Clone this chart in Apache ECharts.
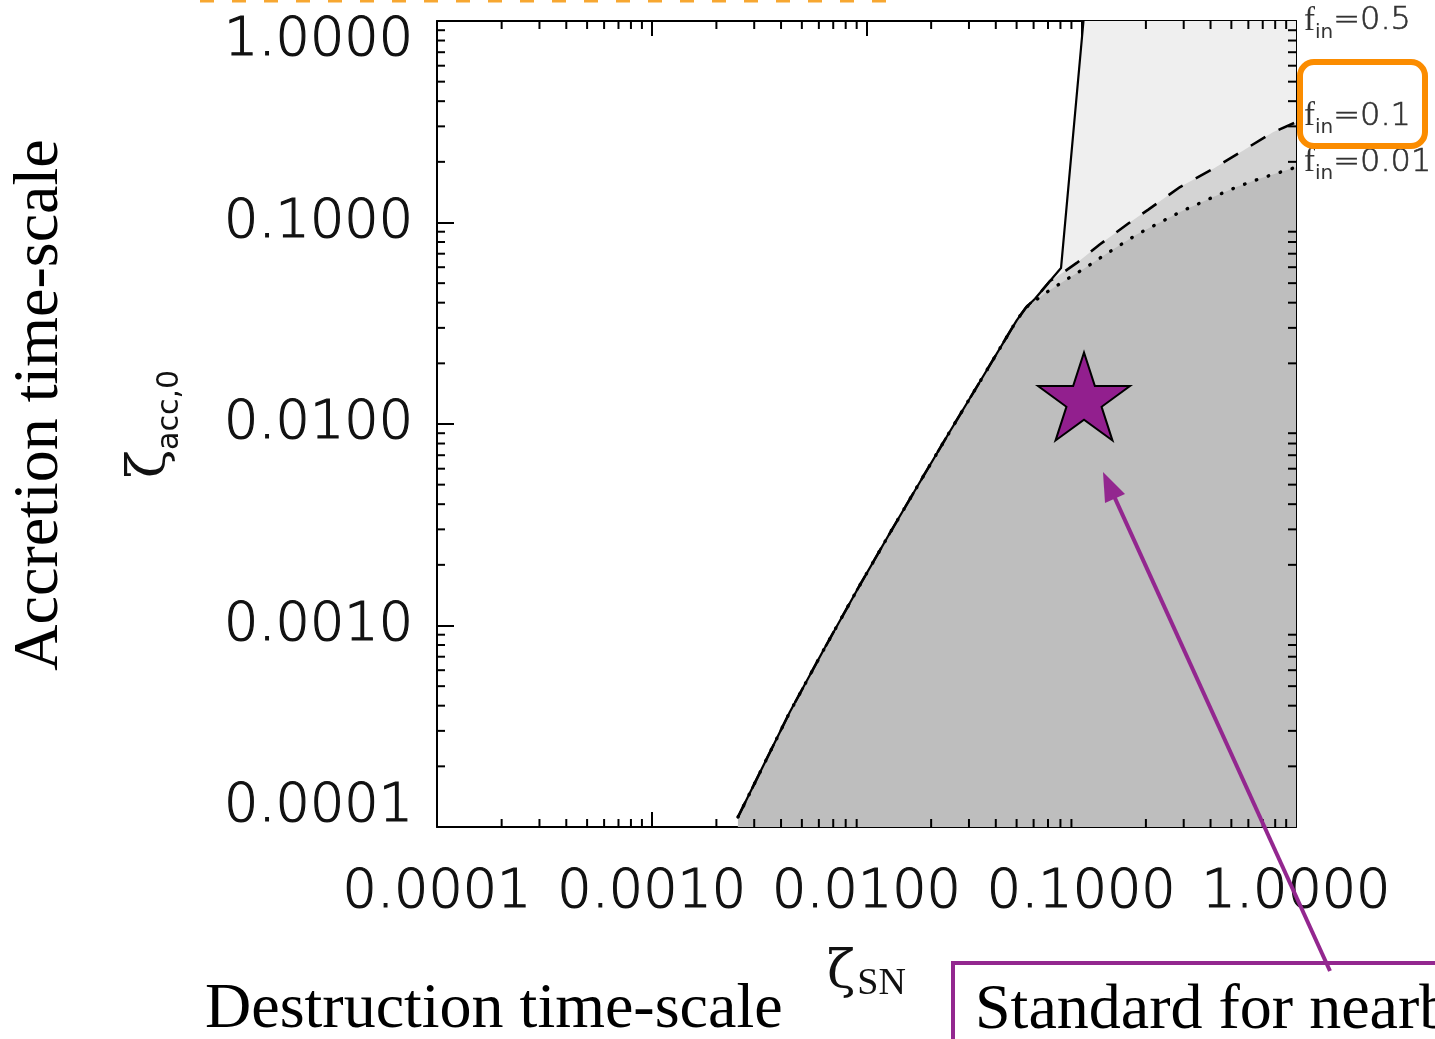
<!DOCTYPE html>
<html><head><meta charset="utf-8">
<script src="https://cdn.jsdelivr.net/npm/echarts@6/dist/echarts.min.js"></script>
<style>html,body{margin:0;padding:0;background:#fff;overflow:hidden}#c{width:1435px;height:1039px}</style>
</head><body><div id="c"></div>
<script>
// ---- tick labels ----
const xTickLabels = ['0.0001', '0.0010', '0.0100', '0.1000', '1.0000'];
const yTickLabels = ['0.0001', '0.0010', '0.0100', '0.1000', '1.0000'];
const minorMultipliers = [2, 3, 4, 5, 6, 7, 8, 9];
const decadeStarts = [1e-4, 1e-3, 1e-2, 1e-1];

// ---- shared lower branch of the three boundaries ----
const branchX = [0.00252, 0.00440, 0.00629, 0.00900, 0.01287, 0.01839, 0.02448, 0.03499, 0.05005, 0.05529];
const branchY = [1.12e-4, 3.73e-4, 7.51e-4, 0.001489, 0.002884, 0.005507, 0.00920, 0.01730, 0.03270, 0.03786];

// ---- f_in = 0.5 (solid) ----
const fin05X = [0.0609, 0.0715, 0.0805, 0.1024];
const fin05Y = [0.04185, 0.05126, 0.0594, 1.0];

// ---- f_in = 0.1 (dashed) ----
const fin01X = [0.0609, 0.0715, 0.0825, 0.0953, 0.1223, 0.1656, 0.2052, 0.2884, 0.412, 0.568, 0.784, 1.0];
const fin01Y = [0.04185, 0.05126, 0.0566, 0.0630, 0.0780, 0.0988, 0.1159, 0.150, 0.185, 0.228, 0.281, 0.3144];

// ---- f_in = 0.01 (dotted) ----
const fin001X = [0.0678, 0.0840, 0.1041, 0.1314, 0.1812, 0.2884, 0.412, 0.5296, 0.680, 1.0];
const fin001Y = [0.0445, 0.0516, 0.0594, 0.0701, 0.0871, 0.1127, 0.1338, 0.150, 0.1652, 0.188];

// ---- standard value (star) ----
const starX = [0.103];
const starY = [0.0137];

const finLabels = ['0.5', '0.1', '0.01'];

// ---- helpers ----
const pairs = (xs, ys) => xs.map((x, i) => [x, ys[i]]);
const branch = pairs(branchX, branchY);
const solidLine = branch.concat(pairs(fin05X, fin05Y));
const solidFill = solidLine.concat([[1.0, 1.0]]);
const dashedLine = branch.concat(pairs(fin01X, fin01Y));
const dottedLine = branch.concat(pairs(fin001X, fin001Y));
const minorValues = [];
decadeStarts.forEach(d => minorMultipliers.forEach(m => minorValues.push(m * d)));

const AX_MIN = 1e-4, AX_MAX = 1;
const labelIdx = v => Math.round(Math.log10(v)) + 4;
const TICK_FONT = 'DejaVu Sans';

const finRich = {
  f: { fontFamily: 'Liberation Serif', fontSize: 33, color: '#333' },
  s: { fontFamily: 'DejaVu Sans', fontSize: 20, color: '#333', padding: [24, 0, 0, 0] },
  t: { fontFamily: TICK_FONT, fontWeight: 200, fontSize: 32, color: '#333', textBorderColor: '#333', textBorderWidth: 0.6 }
};
function finEndLabel(txt, dy) {
  return {
    show: true, distance: 8, offset: [0, dy],
    formatter: () => '{f|f}{s|in}{t|=' + txt + '}',
    rich: finRich
  };
}

// minor tick drawer along one side of the frame
function minorTickSeries(side) {
  const isX = side === 'bottom' || side === 'top';
  return {
    name: side + ' minor ticks', type: 'custom', silent: true, z: 6, clip: false,
    data: minorValues.map(v => isX ? [v, AX_MIN] : [AX_MAX, v]),
    renderItem: (params, api) => {
      const cs = params.coordSys;
      let x1, y1, x2, y2;
      if (isX) {
        const px = api.coord([api.value(0), AX_MIN])[0];
        x1 = x2 = px;
        if (side === 'bottom') { y1 = cs.y + cs.height; y2 = y1 - 8; }
        else { y1 = cs.y; y2 = y1 + 8; }
      } else {
        const py = api.coord([AX_MAX, api.value(1)])[1];
        y1 = y2 = py;
        if (side === 'left') { x1 = cs.x; x2 = x1 + 8; }
        else { x1 = cs.x + cs.width; x2 = x1 - 8; }
      }
      return {
        type: 'line',
        shape: { x1: x1, y1: y1, x2: x2, y2: y2 },
        style: { stroke: '#000', lineWidth: 2 }
      };
    }
  };
}

const chart = echarts.init(document.getElementById('c'), null, { renderer: 'canvas' });

const option = {
  animation: false,
  backgroundColor: '#fff',
  textStyle: { fontFamily: 'DejaVu Sans' },
  grid: { left: 437, top: 21, right: 139, bottom: 212, containLabel: false, outerBoundsMode: 'none' },
  xAxis: [
    {
      type: 'log', logBase: 10, min: AX_MIN, max: AX_MAX, position: 'bottom',
      axisLine: { show: true, lineStyle: { color: '#000', width: 2 } },
      axisTick: { show: true, inside: true, length: 15, lineStyle: { color: '#000', width: 2 } },
      splitLine: { show: false },
      axisLabel: {
        show: true, margin: 46, fontSize: 54, lineHeight: 40, color: '#111',
        fontFamily: TICK_FONT, fontWeight: 200, textBorderColor: '#111', textBorderWidth: 1.2,
        formatter: v => xTickLabels[labelIdx(v)]
      },
      name: '{z|ζ}{s|SN}', nameLocation: 'middle', nameGap: 116,
      nameTextStyle: {
        rich: {
          z: { fontFamily: 'DejaVu Serif', fontSize: 52, color: '#111' },
          s: { fontFamily: 'Liberation Serif', fontSize: 38, color: '#111', padding: [22, 0, 0, 2] }
        }
      }
    },
    {
      type: 'log', logBase: 10, min: AX_MIN, max: AX_MAX, position: 'top',
      axisLine: { show: true, lineStyle: { color: '#000', width: 2 } },
      axisTick: { show: true, inside: true, length: 15, lineStyle: { color: '#000', width: 2 } },
      splitLine: { show: false }, axisLabel: { show: false }
    }
  ],
  yAxis: [
    {
      type: 'log', logBase: 10, min: AX_MIN, max: AX_MAX, position: 'left',
      axisLine: { show: true, lineStyle: { color: '#000', width: 2 } },
      axisTick: { show: true, inside: true, length: 17, lineStyle: { color: '#000', width: 2 } },
      splitLine: { show: false },
      axisLabel: {
        show: true, margin: 24, fontSize: 54, lineHeight: 40, color: '#111',
        fontFamily: TICK_FONT, fontWeight: 200, textBorderColor: '#111', textBorderWidth: 1.2,
        verticalAlignMinLabel: 'bottom', verticalAlignMaxLabel: 'top',
        formatter: v => yTickLabels[labelIdx(v)]
      },
      name: '{z|ζ}{s|acc,0}', nameLocation: 'middle', nameGap: 252, nameRotate: 90,
      nameTextStyle: {
        rich: {
          z: { fontFamily: 'DejaVu Serif', fontSize: 52, color: '#111' },
          s: { fontFamily: 'DejaVu Sans', fontSize: 30, color: '#111', padding: [40, 0, 0, 0] }
        }
      }
    },
    {
      type: 'log', logBase: 10, min: AX_MIN, max: AX_MAX, position: 'right',
      axisLine: { show: true, lineStyle: { color: '#000', width: 2 } },
      axisTick: { show: true, inside: true, length: 17, lineStyle: { color: '#000', width: 2 } },
      splitLine: { show: false }, axisLabel: { show: false }
    }
  ],
  series: [
    { name: 'fill f_in=0.5', type: 'line', data: solidFill, showSymbol: false, symbol: 'none', silent: true,
      lineStyle: { width: 0 }, areaStyle: { color: '#efefef', opacity: 1, origin: 'start' }, z: 1,
      endLabel: finEndLabel(finLabels[0], 0) },
    { name: 'fill f_in=0.1', type: 'line', data: dashedLine, showSymbol: false, symbol: 'none', silent: true,
      lineStyle: { width: 0 }, areaStyle: { color: '#d4d4d4', opacity: 1, origin: 'start' }, z: 2,
      endLabel: finEndLabel(finLabels[1], -6) },
    { name: 'fill f_in=0.01', type: 'line', data: dottedLine, showSymbol: false, symbol: 'none', silent: true,
      lineStyle: { width: 0 }, areaStyle: { color: '#bebebe', opacity: 1, origin: 'start' }, z: 3,
      endLabel: finEndLabel(finLabels[2], -5) },
    { name: 'f_in=0.5', type: 'line', data: solidLine, showSymbol: false, symbol: 'none', silent: true,
      lineStyle: { color: '#000', width: 2.2 }, z: 5 },
    { name: 'f_in=0.1', type: 'line', data: dashedLine, showSymbol: false, symbol: 'none', silent: true,
      lineStyle: { color: '#000', width: 2.6, type: [17, 15] }, z: 5 },
    { name: 'f_in=0.01', type: 'line', data: dottedLine, showSymbol: false, symbol: 'none', silent: true,
      lineStyle: { color: '#000', width: 3.4, type: [0.5, 12], cap: 'round' }, z: 5 },
    minorTickSeries('bottom'),
    minorTickSeries('top'),
    minorTickSeries('left'),
    minorTickSeries('right'),
    { name: 'standard', type: 'scatter', data: pairs(starX, starY), silent: true, z: 10,
      symbol: 'path://M0,-100 L22.45,-30.9 L95.1,-30.9 L36.33,11.8 L58.78,80.9 L0,38.2 L-58.78,80.9 L-36.33,11.8 L-95.1,-30.9 L-22.45,-30.9 Z',
      symbolSize: [92, 88],
      itemStyle: { color: '#921f8e', borderColor: '#000', borderWidth: 2, opacity: 1 } }
  ],
  graphic: [
    { type: 'line', z: 100, silent: true, shape: { x1: 200, y1: 1, x2: 886, y2: 1 },
      style: { stroke: '#f7a731', lineWidth: 3, lineDash: [14, 18] } },
    { type: 'rect', z: 100, silent: true, shape: { x: 1300, y: 62, width: 125, height: 84, r: 14 },
      style: { fill: 'none', stroke: '#fb8c00', lineWidth: 6 } },
    { type: 'rect', z: 100, silent: true, shape: { x: 953, y: 963, width: 600, height: 200 },
      style: { fill: 'none', stroke: '#93278f', lineWidth: 4 } },
    { type: 'line', z: 100, silent: true, shape: { x1: 1330, y1: 971, x2: 1114.7, y2: 497.7 },
      style: { stroke: '#93278f', lineWidth: 4 } },
    { type: 'polygon', z: 100, silent: true, shape: { points: [[1103, 472], [1125, 494], [1105, 503]] },
      style: { fill: '#93278f' } },
    { type: 'text', z: 100, silent: true, x: 205, y: 1010,
      style: { text: 'Destruction time-scale', fontFamily: 'Liberation Serif', fontSize: 64, fill: '#000', align: 'left', verticalAlign: 'middle' } },
    { type: 'text', z: 100, silent: true, x: 975, y: 1011,
      style: { text: 'Standard for nearby', fontFamily: 'Liberation Serif', fontSize: 64, fill: '#000', align: 'left', verticalAlign: 'middle' } },
    { type: 'text', z: 100, silent: true, x: 40, y: 405, rotation: Math.PI / 2,
      style: { text: 'Accretion time-scale', fontFamily: 'Liberation Serif', fontSize: 64, fill: '#000', align: 'center', verticalAlign: 'middle' } }
  ]
};
chart.setOption(option);
</script>
</body></html>
